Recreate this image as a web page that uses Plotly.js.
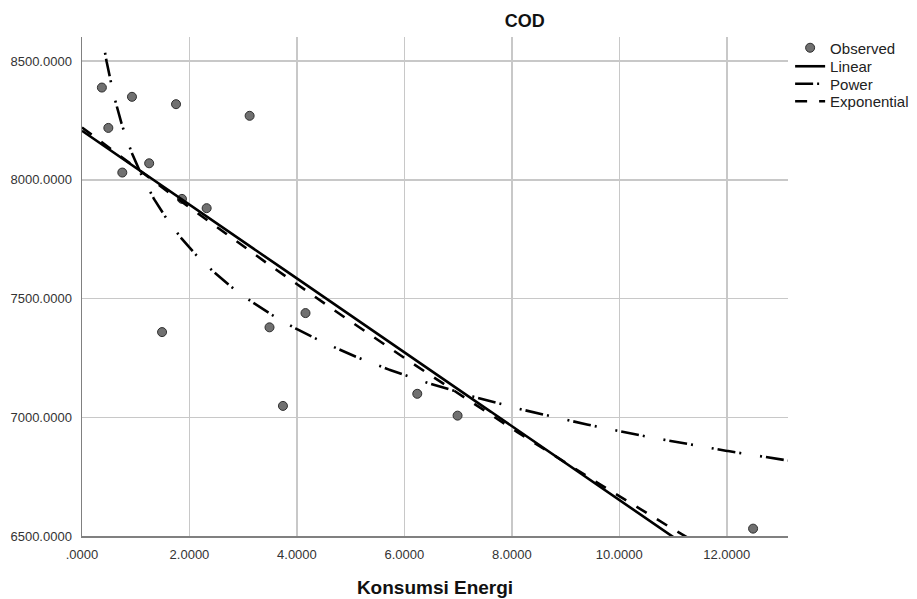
<!DOCTYPE html>
<html>
<head>
<meta charset="utf-8">
<script src="https://cdn.plot.ly/plotly-3.0.1.min.js"></script>
<style>html,body{margin:0;padding:0;background:#fff}#chart{width:917px;height:599px}</style>
</head>
<body>
<div id="chart"></div>
<script>
var konsumsiEnergi = [0.37, 0.49, 0.75, 0.93, 1.25, 1.49, 1.75, 1.86, 2.32, 3.12, 3.49, 3.74, 4.16, 6.24, 6.99, 12.49];
var cod = [8389, 8219, 8031, 8350, 8070, 7359, 8319, 7920, 7881, 8270, 7379, 7048, 7439, 7099, 7007, 6531];

var xTickVals = [0, 2, 4, 6, 8, 10, 12];
var xTickText = [".0000", "2.0000", "4.0000", "6.0000", "8.0000", "10.0000", "12.0000"];
var yTickVals = [6500, 7000, 7500, 8000, 8500];
var yTickText = ["6500.0000", "7000.0000", "7500.0000", "8000.0000", "8500.0000"];
var seriesNames = ["Observed", "Linear", "Power", "Exponential"];

// least squares helper
function ols(xs, ys) {
  var n = xs.length, mx = 0, my = 0;
  for (var i = 0; i < n; i++) { mx += xs[i]; my += ys[i]; }
  mx /= n; my /= n;
  var sxy = 0, sxx = 0;
  for (var j = 0; j < n; j++) { sxy += (xs[j] - mx) * (ys[j] - my); sxx += (xs[j] - mx) * (xs[j] - mx); }
  var b = sxy / sxx;
  return { a: my - b * mx, b: b };
}
var lnX = konsumsiEnergi.map(Math.log);
var lnY = cod.map(Math.log);
var lin = ols(konsumsiEnergi, cod);
var pow = ols(lnX, lnY);
var expo = ols(konsumsiEnergi, lnY);

var xMax = 13.14;
var gridX = [];
for (var k = 0; k <= 660; k++) gridX.push(k * xMax / 660);
var gridXPos = gridX.filter(function (v) { return v > 0.2; });

var linY = gridX.map(function (x) { return lin.a + lin.b * x; });
var powY = gridXPos.map(function (x) { return Math.exp(pow.a) * Math.pow(x, pow.b); });
var expY = gridX.map(function (x) { return Math.exp(expo.a + expo.b * x); });

var traces = [
  { x: konsumsiEnergi, y: cod, mode: "markers", type: "scatter", name: seriesNames[0], legend: "legend",
    marker: { size: 9, color: "#707070", line: { color: "#2e2e2e", width: 1 } }, cliponaxis: false },
  { x: gridX, y: linY, mode: "lines", type: "scatter", name: seriesNames[1], legend: "legend2",
    line: { color: "#000", width: 2.6 } },
  { x: gridXPos, y: powY, mode: "lines", type: "scatter", name: seriesNames[2], legend: "legend3",
    line: { color: "#000", width: 2.6, dash: "18px,4px,2px,19px,2px,4px" } },
  { x: gridX, y: expY, mode: "lines", type: "scatter", name: seriesNames[3], legend: "legend4",
    line: { color: "#000", width: 2.6, dash: "12px,12px" } }
];

var plotTop = 37, plotBottom = 536, plotH = plotBottom - plotTop;
function legendAt(ypx) {
  return {
    x: 1.003, xanchor: "left", y: (plotBottom - ypx) / plotH, yanchor: "middle",
    font: { size: 15, color: "#222" }, bgcolor: "rgba(0,0,0,0)", itemwidth: 30
  };
}

var layout = {
  width: 917, height: 599,
  margin: { l: 82, r: 129, t: 37, b: 63, pad: 0, autoexpand: false },
  paper_bgcolor: "#fff", plot_bgcolor: "#fff",
  font: { family: "Liberation Sans, Arial, sans-serif", color: "#333" },
  showlegend: true,
  title: { text: "<b>COD</b>", x: 0.627, xref: "paper", xanchor: "center", y: 0.965, yref: "container", yanchor: "middle",
    font: { size: 18, color: "#111" } },
  xaxis: {
    range: [0, xMax], tickvals: xTickVals, ticktext: xTickText,
    showgrid: true, gridcolor: "#c8c8c8", gridwidth: 1.5,
    showline: true, linecolor: "#808080", linewidth: 1.5,
    zeroline: false, ticks: "", ticklabelstandoff: 6,
    tickfont: { size: 13, color: "#333" },
    title: { text: "<b>Konsumsi Energi</b>", standoff: 19, font: { size: 19, color: "#111" } }
  },
  yaxis: {
    range: [6500, 8602], tickvals: yTickVals, ticktext: yTickText,
    showgrid: true, gridcolor: "#c8c8c8", gridwidth: 1.5,
    showline: true, linecolor: "#808080", linewidth: 1.5,
    zeroline: false, ticks: "", ticklabelstandoff: 6,
    tickfont: { size: 13, color: "#333" }
  },
  legend: legendAt(48),
  legend2: legendAt(66.5),
  legend3: legendAt(84),
  legend4: legendAt(101.5)
};

Plotly.newPlot("chart", traces, layout, { displayModeBar: false, staticPlot: true });
</script>
</body>
</html>
